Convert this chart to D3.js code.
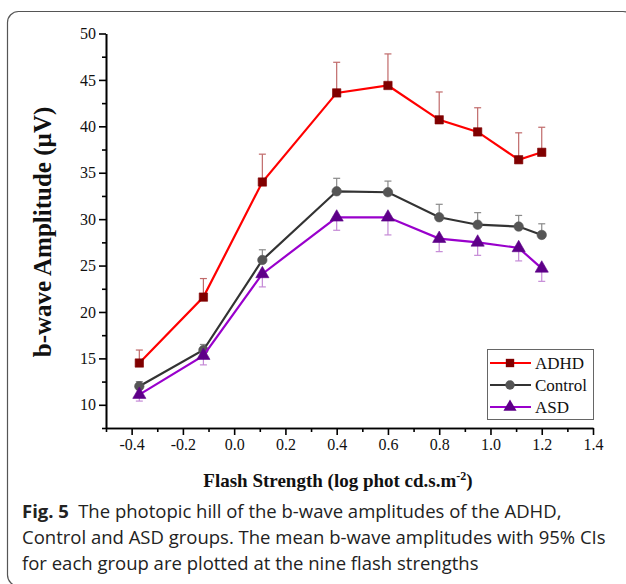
<!DOCTYPE html>
<meta charset="utf-8">
<style>
    body { margin: 0; background: white; }
    svg { display: block; }
    .axis path, .axis line { stroke: #000; stroke-width: 1.6; }
</style>
<svg width="626" height="584"></svg>
<script src="https://d3js.org/d3.v7.min.js"></script>
<script>
    // flash strengths (log phot cd.s.m-2)
    var flash = [-0.37, -0.12, 0.11, 0.40, 0.60, 0.80, 0.95, 1.11, 1.20];

    // mean b-wave amplitudes and CI half widths
    var adhd = [14.5, 21.6, 34.0, 43.6, 44.4, 40.7, 39.4, 36.4, 37.2];
    var adhdErr = [1.4, 2.0, 3.0, 3.3, 3.4, 3.0, 2.6, 2.9, 2.7];
    var control = [12.0, 15.9, 25.6, 33.0, 32.9, 30.2, 29.4, 29.2, 28.3];
    var controlErr = [0.5, 0.6, 1.1, 1.4, 1.2, 1.4, 1.3, 1.2, 1.2];
    var asd = [11.1, 15.3, 24.1, 30.2, 30.2, 27.9, 27.5, 26.9, 24.7];
    var asdErr = [0.7, 1.0, 1.4, 1.4, 1.9, 1.4, 1.4, 1.4, 1.4];

    var xMajor = [-0.4, -0.2, 0.0, 0.2, 0.4, 0.6, 0.8, 1.0, 1.2, 1.4];
    var yMajor = [10, 15, 20, 25, 30, 35, 40, 45, 50];

    var serif = "'Liberation Serif', 'Times New Roman', serif";

    var svg = d3.select("svg");

    // rounded figure frame
    svg.append("rect")
        .attr("x", 7.5).attr("y", 11.5)
        .attr("width", 626.5).attr("height", 574.5)
        .attr("rx", 11)
        .attr("fill", "none")
        .attr("stroke", "#555")
        .attr("stroke-width", 1.2);

    var x = d3.scaleLinear().domain([-0.5, 1.4]).range([106, 593]);
    var y = d3.scaleLinear().domain([7.5, 50]).range([428, 33.5]);

    var fmt = function (d) { return d3.format(".1f")(d).replace("\u2212", "-"); };

    // minor ticks
    var xMinor = d3.range(-5, 15, 2).map(function (d) { return d / 10; });
    var yMinor = d3.range(7.5, 50, 5);

    var g = svg.append("g");

    g.append("g").attr("class", "axis")
        .attr("transform", "translate(0," + y(7.5) + ")")
        .call(d3.axisBottom(x).tickValues(xMinor).tickSize(4).tickFormat("").tickSizeOuter(0));
    g.append("g").attr("class", "axis")
        .attr("transform", "translate(0," + y(7.5) + ")")
        .call(d3.axisBottom(x).tickValues(xMajor).tickSize(7).tickPadding(4).tickFormat(fmt).tickSizeOuter(0));

    g.append("g").attr("class", "axis")
        .attr("transform", "translate(" + x(-0.5) + ",0)")
        .call(d3.axisLeft(y).tickValues(yMinor).tickSize(4).tickFormat("").tickSizeOuter(0));
    g.append("g").attr("class", "axis")
        .attr("transform", "translate(" + x(-0.5) + ",0)")
        .call(d3.axisLeft(y).tickValues(yMajor).tickSize(7).tickPadding(3).tickFormat(d3.format("d")).tickSizeOuter(0));

    g.selectAll(".tick text")
        .attr("font-family", serif)
        .attr("font-size", 16)
        .attr("fill", "#111");

    // axis titles
    svg.append("text")
        .attr("transform", "translate(51,232) rotate(-90)")
        .attr("text-anchor", "middle")
        .attr("font-family", serif)
        .attr("font-weight", "bold")
        .attr("font-size", 25)
        .attr("fill", "#111")
        .text("b-wave Amplitude (\u00b5V)");

    var xt = svg.append("text")
        .attr("x", 338).attr("y", 487)
        .attr("text-anchor", "middle")
        .attr("font-family", serif)
        .attr("font-weight", "bold")
        .attr("font-size", 19)
        .attr("fill", "#111");
    xt.append("tspan").text("Flash Strength (log phot cd.s.m");
    xt.append("tspan").attr("dy", -7).attr("font-size", 12).text("-2");
    xt.append("tspan").attr("dy", 7).text(")");

    var series = [
        { name: "ADHD", vals: adhd, err: adhdErr, dir: 1, line: "#ff0000", fill: "#800000", bar: "#c06a6a", shape: d3.symbolSquare, size: 70 },
        { name: "Control", vals: control, err: controlErr, dir: 1, line: "#333333", fill: "#555555", bar: "#8a8a8a", shape: d3.symbolCircle, size: 70 },
        { name: "ASD", vals: asd, err: asdErr, dir: -1, line: "#9900cc", fill: "#5e0088", bar: "#c58ad6", shape: d3.symbolTriangle, size: 75 }
    ];

    var line = d3.line()
        .x(function (d) { return x(d[0]); })
        .y(function (d) { return y(d[1]); });

    series.forEach(function (s) {
        var pts = flash.map(function (f, i) { return [f, s.vals[i], s.err[i]]; });
        var eg = svg.append("g");
        pts.forEach(function (p) {
            var y0 = y(p[1]), y1 = y(p[1] + s.dir * p[2]);
            eg.append("line").attr("x1", x(p[0])).attr("x2", x(p[0]))
                .attr("y1", y0).attr("y2", y1)
                .attr("stroke", s.bar).attr("stroke-width", 1.2);
            eg.append("line").attr("x1", x(p[0]) - 3.5).attr("x2", x(p[0]) + 3.5)
                .attr("y1", y1).attr("y2", y1)
                .attr("stroke", s.bar).attr("stroke-width", 1.2);
        });
        svg.append("path").datum(pts)
            .attr("d", line)
            .attr("fill", "none")
            .attr("stroke", s.line)
            .attr("stroke-width", 2.2);
        svg.append("g").selectAll("path").data(pts).enter().append("path")
            .attr("transform", function (d) { return "translate(" + x(d[0]) + "," + y(d[1]) + ")"; })
            .attr("d", d3.symbol().type(s.shape).size(s.size))
            .attr("fill", s.fill)
            .attr("stroke", s.fill)
            .attr("stroke-opacity", 0.6);
    });

    // legend
    var lg = svg.append("g");
    lg.append("rect")
        .attr("x", 487.5).attr("y", 349.5).attr("width", 106).attr("height", 70)
        .attr("fill", "white").attr("stroke", "#666").attr("stroke-width", 1);
    series.forEach(function (s, i) {
        var ly = 363 + i * 22;
        lg.append("line").attr("x1", 490).attr("x2", 531).attr("y1", ly).attr("y2", ly)
            .attr("stroke", s.line).attr("stroke-width", 2);
        lg.append("path").attr("transform", "translate(510," + ly + ")")
            .attr("d", d3.symbol().type(s.shape).size(s.size))
            .attr("fill", s.fill);
        lg.append("text").attr("x", 535).attr("y", ly + 5.5)
            .attr("font-family", serif)
            .attr("font-size", 17)
            .attr("fill", "#111")
            .text(s.name);
    });

    // caption
    var cap = svg.append("text")
        .attr("font-family", "'Open Sans', sans-serif")
        .attr("font-size", 18.5)
        .attr("fill", "#222");
    var l1 = cap.append("tspan").attr("x", 22).attr("y", 518);
    l1.append("tspan").attr("font-weight", "bold").text("Fig. 5");
    l1.append("tspan").text("\u2002The photopic hill of the b-wave amplitudes of the ADHD,");
    cap.append("tspan").attr("x", 22).attr("y", 544)
        .text("Control and ASD groups. The mean b-wave amplitudes with 95% CIs");
    cap.append("tspan").attr("x", 22).attr("y", 570)
        .text("for each group are plotted at the nine flash strengths");
</script>
